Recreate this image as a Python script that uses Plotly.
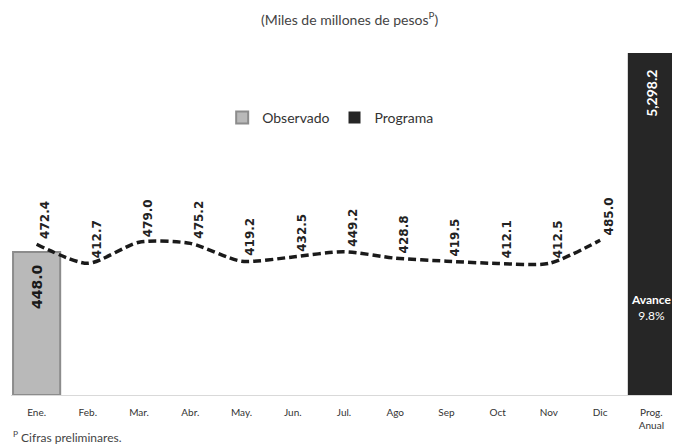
import plotly.graph_objects as go

categories = ["Ene.", "Feb.", "Mar.", "Abr.", "May.", "Jun.", "Jul.", "Ago", "Sep", "Oct", "Nov", "Dic", "Prog.<br>Anual"]
months = categories[:12]
programa_mensual = [472.4, 412.7, 479.0, 475.2, 419.2, 432.5, 449.2, 428.8, 419.5, 412.1, 412.5, 485.0]
observado_cat = ["Ene."]
observado_val = [448.0]
anual_cat = ["Prog.<br>Anual"]
anual_val = [5298.2]
avance_text = "<b>Avance</b><br>9.8%"
title_text = "(Miles de millones de pesos<sup>P</sup>)"
note_text = "<sup>P</sup> Cifras preliminares."

fig = go.Figure()

fig.add_trace(go.Bar(
    x=observado_cat, y=observado_val, name="Observado",
    marker=dict(color="#b9b9b9", line=dict(color="#8c8c8c", width=2)),
    width=0.92,
    texttemplate="%{y:.1f}\u00a0\u00a0", textposition="inside", insidetextanchor="end",
    textangle=-90, textfont=dict(family="DejaVu Sans", size=14, color="#1a1a1a", weight="bold"),
    yaxis="y",
))

fig.add_trace(go.Bar(
    x=anual_cat, y=anual_val, name="Programa",
    marker=dict(color="#262626", line=dict(color="#262626", width=0)),
    width=0.92,
    texttemplate="%{y:,.1f}\u00a0\u00a0\u00a0\u00a0", textposition="inside", insidetextanchor="end",
    textangle=-90, textfont=dict(family="Lato", size=14, color="white", weight="bold"),
    yaxis="y2",
))

fig.add_trace(go.Scatter(
    x=months, y=programa_mensual, mode="lines", name="Programa mensual",
    line=dict(color="#1a1a1a", width=3.5, dash="8px,4px", shape="spline", smoothing=0.7),
    showlegend=False, yaxis="y",
))

annotations = []
for m, v in zip(months, programa_mensual):
    annotations.append(dict(
        x=m, y=v, xref="x", yref="y", text=f"{v:.1f}", textangle=-90,
        showarrow=False, yanchor="bottom", xanchor="center", xshift=9, yshift=3,
        font=dict(family="DejaVu Sans", size=12, color="#222222", weight="bold"),
    ))

annotations.append(dict(
    x=anual_cat[0], y=0.254, xref="x", yref="paper", yanchor="middle", text=avance_text,
    showarrow=False, font=dict(family="Lato", size=12, color="white"), align="center",
))
annotations.append(dict(
    x=0.509, y=1.099, xref="paper", yref="paper", yanchor="middle", text=title_text,
    showarrow=False, font=dict(family="Lato", size=14, color="#444444"),
))
annotations.append(dict(
    x=0.0, y=-0.122, xref="paper", yref="paper", yanchor="middle", text=note_text, xanchor="left",
    showarrow=False, font=dict(family="Lato", size=12, color="#444444"),
))

fig.update_layout(
    width=672, height=440,
    margin=dict(l=3, r=3, t=44, b=53),
    paper_bgcolor="white", plot_bgcolor="white",
    barmode="overlay",
    showlegend=True,
    legend=dict(orientation="h", x=0.48, xanchor="center", y=0.808, yanchor="middle",
                font=dict(family="Lato", size=14, color="#333333"), bgcolor="rgba(0,0,0,0)"),
    xaxis=dict(categoryorder="array", categoryarray=categories, showline=True,
               linecolor="#d9d9d9", linewidth=1, showgrid=False, ticks="",
               ticklabelstandoff=8,
               tickfont=dict(family="Lato", size=10, color="#333333")),
    yaxis=dict(range=[0, 1075], visible=False, showgrid=False, zeroline=False),
    yaxis2=dict(range=[0, 5314], overlaying="y", side="right", visible=False,
                showgrid=False, zeroline=False),
    annotations=annotations,
)

fig.write_html("out.html")
